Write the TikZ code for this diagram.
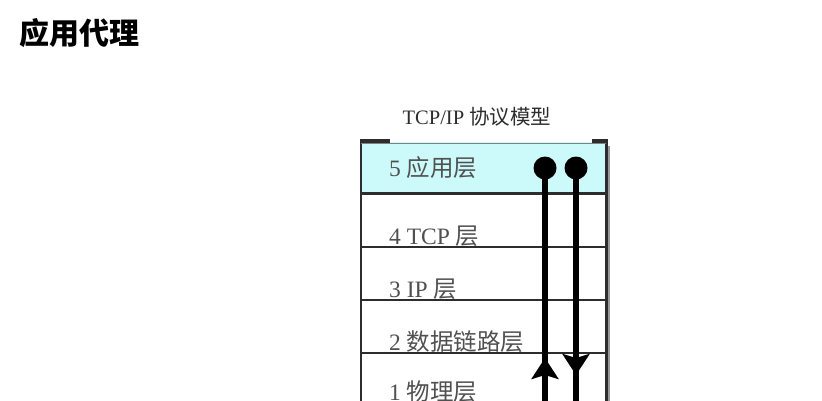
\documentclass[tikz,border=0pt]{standalone}
\usepackage{fontspec}
\setmainfont{Liberation Serif}
\newfontfamily\cjk{Noto Sans CJK SC}
\usetikzlibrary{arrows.meta}
\definecolor{layertxt}{RGB}{80,80,80}
\definecolor{bandcyan}{RGB}{204,250,250}
\definecolor{edgedark}{RGB}{45,45,45}
\tikzset{
  layerlabel/.style={anchor=west, inner sep=0pt, text=layertxt, font=\fontsize{23.5}{25}\selectfont},
  divider/.style={draw=edgedark, line width=1.3pt},
  flow/.style={draw=black, line width=5.5pt},
  dotnode/.style={circle, fill=black, minimum size=23pt, inner sep=0pt},
  midtip/.style={-{Stealth[width=27pt,length=21pt,inset=4pt]}, line width=5.5pt, shorten >=0pt},
}
\begin{document}
\begin{tikzpicture}[x=1pt,y=-1pt]
\useasboundingbox (0,0) rectangle (822,400);
\clip (0,0) rectangle (822,400);
% page title
\node[anchor=west, inner sep=0pt, font=\fontsize{30}{32}\selectfont\cjk\bfseries] (pagetitle) at (19,33) {应用代理};
% diagram title
\node[inner sep=0pt, text=edgedark, font=\fontsize{20.5}{22}\selectfont] (modeltitle) at (477,117) {TCP/IP {\cjk 协议模型}};
% box
\fill[white] (361,142) rectangle (606,420);
\fill[bandcyan] (361,142) rectangle (606,193);
% shadow / borders
\draw[draw=black!40, line width=2.5pt] (609,146) -- (609,420);
\draw[draw=edgedark, line width=3pt] (606,140) -- (606,420);
\draw[draw=edgedark, line width=2pt] (361,140) -- (361,420);
\draw[draw=black!50, line width=1pt] (361,143) -- (606,143);
\draw[draw=edgedark, line width=4pt] (360,141) -- (390,141);
\draw[draw=edgedark, line width=4pt] (592,141) -- (607.5,141);
% dividers
\draw[divider, line width=3pt] (361,193) -- (606,193);
\draw[divider] (361,247) -- (606,247);
\draw[divider] (361,300) -- (606,300);
\draw[divider, line width=2.5pt] (361,353) -- (606,353);
% layer labels
\node[layerlabel] (l5) at (389,168) {5 {\cjk 应用层}};
\node[layerlabel] (l4) at (389,236) {4 TCP {\cjk 层}};
\node[layerlabel] (l3) at (389,289) {3 IP {\cjk 层}};
\node[layerlabel] (l2) at (389,342) {2 {\cjk 数据链路层}};
\node[layerlabel] (l1) at (389,392) {1 {\cjk 物理层}};
% flows
\node[dotnode] (dotup) at (545,168) {};
\node[dotnode] (dotdown) at (576,168) {};
\coordinate (botup) at (545,420);
\coordinate (botdown) at (576,420);
\coordinate (tipup) at (545,358);
\coordinate (tipdown) at (576,375);
\coordinate (baseup) at (545,380);
\coordinate (basedown) at (576,350);
\draw[flow] (dotup.center) -- (botup);
\draw[flow] (dotdown.center) -- (botdown);
\draw[midtip] (baseup) -- (tipup);
\draw[midtip] (basedown) -- (tipdown);
\end{tikzpicture}
\end{document}
